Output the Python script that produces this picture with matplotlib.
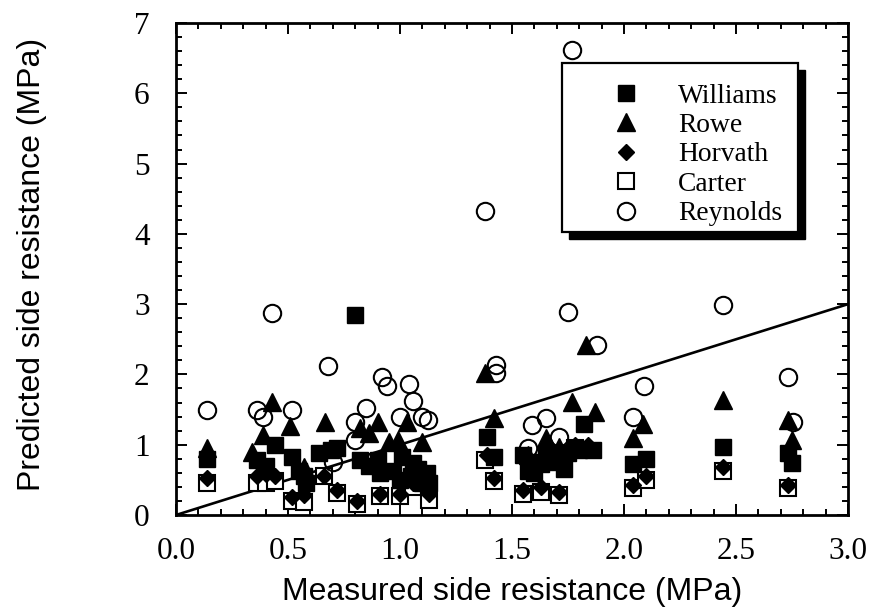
import matplotlib
matplotlib.use("Agg")
import matplotlib.pyplot as plt
from matplotlib.patches import Rectangle
from matplotlib.ticker import MultipleLocator, FormatStrFormatter

# ---- data ----
williams_x = [0.14, 0.36, 0.40, 0.44, 0.52, 0.57, 0.64, 0.69, 0.72, 0.80, 0.82, 0.86, 0.90, 0.91,
              1.01, 1.06, 1.12, 1.00, 1.10, 1.39, 1.42, 1.57, 1.58, 1.63, 1.68, 1.73, 1.75, 1.80,
              1.82, 1.86, 2.04, 2.10, 2.44, 2.73, 2.75,
              1.05, 1.08, 1.13, 0.97, 0.58, 0.55, 1.55, 1.60, 1.65, 1.70, 1.78]
williams_y = [0.80, 0.78, 0.70, 1.00, 0.83, 0.55, 0.88, 0.92, 0.95, 2.85, 0.78, 0.70, 0.78, 0.60,
              0.83, 0.74, 0.60, 0.50, 0.45, 1.11, 0.83, 0.62, 0.75, 0.72, 0.80, 0.65, 0.88, 0.92,
              1.30, 0.92, 0.72, 0.80, 0.97, 0.88, 0.74,
              0.55, 0.65, 0.45, 0.62, 0.45, 0.62, 0.85, 0.60, 0.85, 0.75, 0.95]

rowe_x = [0.14, 0.34, 0.39, 0.43, 0.51, 0.57, 0.665, 0.82, 0.86, 0.90, 0.95, 0.99, 1.03, 1.10,
          1.38, 1.42, 1.57, 1.65, 1.71, 1.77, 1.83, 1.87, 2.04, 2.085, 2.44, 2.73, 2.75]
rowe_y = [0.95, 0.90, 1.14, 1.61, 1.26, 0.69, 1.33, 1.24, 1.17, 1.33, 1.04, 1.07, 1.33, 1.04,
          2.02, 1.38, 0.85, 1.09, 0.97, 1.61, 2.42, 1.47, 1.10, 1.30, 1.64, 1.35, 1.07]

horvath_x = [0.14, 0.36, 0.40, 0.44, 0.52, 0.57, 0.66, 0.72, 0.81, 0.91, 1.00, 1.06, 1.10, 1.13,
             1.39, 1.42, 1.55, 1.63, 1.71, 1.78, 1.84, 2.04, 2.10, 2.44, 2.73]
horvath_y = [0.52, 0.55, 0.58, 0.55, 0.25, 0.28, 0.55, 0.36, 0.20, 0.30, 0.30, 0.45, 0.55, 0.30,
             0.85, 0.52, 0.36, 0.40, 0.33, 1.00, 1.00, 0.42, 0.55, 0.69, 0.42]

carter_x = [0.14, 0.36, 0.40, 0.44, 0.52, 0.57, 0.66, 0.72, 0.81, 0.91, 1.00, 1.06, 1.10, 1.13,
            1.38, 1.42, 1.55, 1.63, 1.71, 1.78, 2.04, 2.10, 2.44, 2.73]
carter_y = [0.45, 0.45, 0.45, 0.48, 0.20, 0.18, 0.55, 0.32, 0.15, 0.27, 0.27, 0.40, 0.50, 0.22,
            0.78, 0.48, 0.30, 0.33, 0.28, 0.95, 0.38, 0.50, 0.62, 0.38]

reynolds_x = [0.14, 0.36, 0.39, 0.43, 0.52, 0.68, 0.70, 0.80, 0.80, 0.85, 0.92, 0.94, 1.04, 1.06,
              1.00, 1.10, 1.125, 1.38, 1.43, 1.43, 1.57, 1.59, 1.65, 1.71, 1.75, 1.77, 1.88,
              2.04, 2.09, 2.44, 2.73, 2.755]
reynolds_y = [1.50, 1.50, 1.40, 2.88, 1.50, 2.12, 0.75, 1.07, 1.33, 1.52, 1.97, 1.83, 1.87, 1.62,
              1.40, 1.40, 1.35, 4.33, 2.13, 2.02, 0.95, 1.28, 1.38, 1.11, 2.89, 6.62, 2.42,
              1.40, 1.83, 2.99, 1.97, 1.33]

line_x = [0.0, 3.0]
line_y = [0.0, 3.0]

x_ticks = [0.0, 0.5, 1.0, 1.5, 2.0, 2.5, 3.0]
y_ticks = [0, 1, 2, 3, 4, 5, 6, 7]

xlabel = "Measured side resistance (MPa)"
ylabel = "Predicted side resistance (MPa)"

# ---- figure ----
fig = plt.figure(figsize=(8.77, 6.15), dpi=100)
ax = fig.add_axes([176 / 877, 1 - 515 / 615, (848 - 176) / 877, (515 - 23) / 615])
ax.set_xlim(0, 3.0)
ax.set_ylim(0, 7)

ax.plot(line_x, line_y, color="black", lw=1.9, zorder=2)

ax.plot(carter_x, carter_y, ls="none", marker="s", ms=11.5, mfc="white", mec="black", mew=1.5,
        zorder=3, label="Carter")
ax.plot(williams_x, williams_y, ls="none", marker="s", ms=11.5, mfc="black", mec="black",
        zorder=4, label="Williams")
ax.plot(rowe_x, rowe_y, ls="none", marker="^", ms=12.5, mfc="black", mec="black",
        zorder=4, label="Rowe")
ax.plot(horvath_x, horvath_y, ls="none", marker="D", ms=7.8, mfc="black", mec="black",
        zorder=5, label="Horvath")
ax.plot(reynolds_x, reynolds_y, ls="none", marker="o", ms=12.5, mfc="none", mec="black", mew=1.5,
        zorder=6, label="Reynolds")

ax.set_xticks(x_ticks)
ax.set_yticks(y_ticks)
ax.xaxis.set_major_formatter(FormatStrFormatter("%.1f"))
ax.xaxis.set_minor_locator(MultipleLocator(0.1))
ax.yaxis.set_minor_locator(MultipleLocator(0.2))
ax.tick_params(which="both", direction="in", top=True, right=True, width=1.4, color="black")
ax.tick_params(which="major", length=8)
ax.tick_params(which="minor", length=4.5)
ax.tick_params(axis="x", which="major", pad=16)
ax.tick_params(axis="y", which="major", pad=19)
for lab in ax.get_xticklabels() + ax.get_yticklabels():
    lab.set_fontfamily("Liberation Serif")
    lab.set_fontsize(22.5)
for sp in ax.spines.values():
    sp.set_linewidth(2.0)

ax.set_xlabel(xlabel, fontfamily="Liberation Sans", fontsize=23)
ax.set_ylabel(ylabel, fontfamily="Liberation Sans", fontsize=23)
ax.xaxis.set_label_coords(0.5, -0.126)
ax.yaxis.set_label_coords(-0.192, 0.51)

# legend box with shadow
x0, y0, x1, y1 = 0.574, 0.575, 0.926, 0.919
off_x, off_y = 0.0104, 0.0142
ax.add_patch(Rectangle((x0 + off_x, y0 - off_y), x1 - x0, y1 - y0, transform=ax.transAxes,
                       facecolor="black", edgecolor="black", zorder=7))
ax.add_patch(Rectangle((x0, y0), x1 - x0, y1 - y0, transform=ax.transAxes,
                       facecolor="white", edgecolor="black", lw=1.6, zorder=8))
handles, labels = ax.get_legend_handles_labels()
order = ["Williams", "Rowe", "Horvath", "Carter", "Reynolds"]
hmap = dict(zip(labels, handles))
leg = ax.legend([hmap[k] for k in order], order, loc="upper left",
                bbox_to_anchor=(0.628, 0.905), frameon=False, numpoints=1,
                prop={"family": "Liberation Serif", "size": 19.8},
                handlelength=1.0, handletextpad=1.4, labelspacing=0.15, borderpad=0)
leg.set_zorder(9)

fig.savefig("out.png", dpi=100)
